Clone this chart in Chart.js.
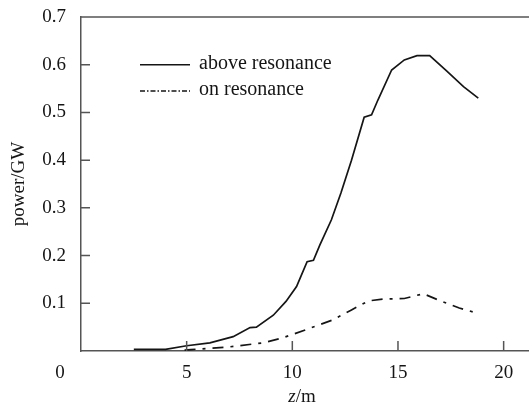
<!DOCTYPE html>
<html>
<head>
<meta charset="utf-8">
<script src="https://cdn.jsdelivr.net/npm/chart.js@4"></script>
<style>
  html, body { margin: 0; padding: 0; background: #fff; }
  #wrap { width: 529px; height: 407px; position: relative; }
</style>
</head>
<body>
<div id="wrap"><canvas id="powerChart"></canvas></div>
<script>
// values
const zAbove = [2.5, 4.0, 5.0, 6.1, 7.2, 8.0, 8.3, 9.1, 9.7, 10.2, 10.4, 10.7, 11.0, 11.3, 11.85, 12.3, 12.8, 13.4, 13.75, 14.05, 14.7, 15.3, 15.9, 16.5, 17.3, 18.1, 18.8];
const pAbove = [0.0035, 0.0035, 0.011, 0.017, 0.030, 0.049, 0.050, 0.075, 0.104, 0.135, 0.156, 0.187, 0.190, 0.222, 0.275, 0.331, 0.400, 0.490, 0.495, 0.526, 0.589, 0.610, 0.619, 0.619, 0.587, 0.554, 0.530];
const zOn = [4.9, 5.2, 6.9, 8.6, 9.5, 10.1, 11.1, 11.9, 12.8, 13.6, 14.3, 15.3, 16.2, 16.9, 17.9, 18.7];
const pOn = [0.002, 0.003, 0.008, 0.017, 0.027, 0.036, 0.052, 0.065, 0.086, 0.105, 0.109, 0.110, 0.120, 0.107, 0.090, 0.080];
const xTicks = [0, 5, 10, 15, 20];
const yTicks = [0.1, 0.2, 0.3, 0.4, 0.5, 0.6, 0.7];
const seriesNames = ['above resonance', 'on resonance'];

const ink = '#151515';
const axisColor = '#555';
const serif = '"Liberation Serif", "DejaVu Serif", serif';

const toPoints = (xs, ys) => xs.map((x, i) => ({ x: x, y: ys[i] }));

// inside tick marks, top frame line, origin label, legend and x title
const decorations = {
    id: 'decorations',
    afterDraw(chart) {
        const { ctx, chartArea, scales } = chart;
        const xs = scales.x, ys = scales.y;
        ctx.save();
        ctx.strokeStyle = axisColor;
        ctx.lineWidth = 1.5;
        ctx.beginPath();
        ctx.moveTo(chartArea.left, chartArea.top);
        ctx.lineTo(chartArea.right, chartArea.top);
        xTicks.filter(v => v > 0).forEach(v => {
            const px = xs.getPixelForValue(v);
            ctx.moveTo(px, chartArea.bottom);
            ctx.lineTo(px, chartArea.bottom - 10);
        });
        yTicks.filter(v => v < 0.7).forEach(v => {
            const py = ys.getPixelForValue(v);
            ctx.moveTo(chartArea.left, py);
            ctx.lineTo(chartArea.left + 9, py);
        });
        ctx.stroke();

        ctx.fillStyle = ink;
        ctx.font = '19px ' + serif;
        ctx.textAlign = 'center';
        ctx.textBaseline = 'middle';
        ctx.fillText('0', xs.getPixelForValue(0) - 21, chartArea.bottom + 22);

        // x title: italic z + /m
        const italic = 'italic 19px ' + serif;
        const upright = '19px ' + serif;
        ctx.font = italic;
        const wz = ctx.measureText('z').width;
        ctx.font = upright;
        const wm = ctx.measureText('/m').width;
        const cx = (chartArea.left + chartArea.right) / 2 - 3;
        const startX = cx - (wz + wm) / 2;
        ctx.textAlign = 'left';
        ctx.font = italic;
        ctx.fillText('z', startX, 397);
        ctx.font = upright;
        ctx.fillText('/m', startX + wz, 397);

        // legend
        const lx0 = 140, lx1 = 190, tx = 199;
        const ly = [ys.getPixelForValue(0.6), ys.getPixelForValue(0.545)];
        ctx.lineWidth = 1.5;
        ctx.strokeStyle = ink;
        ctx.beginPath();
        ctx.moveTo(lx0, ly[0]);
        ctx.lineTo(lx1, ly[0]);
        ctx.stroke();
        ctx.setLineDash([5, 2, 1.5, 2]);
        ctx.beginPath();
        ctx.moveTo(lx0, ly[1]);
        ctx.lineTo(lx1, ly[1]);
        ctx.stroke();
        ctx.setLineDash([]);
        ctx.font = '20px ' + serif;
        ctx.fillText(seriesNames[0], tx, ly[0] - 1);
        ctx.fillText(seriesNames[1], tx, ly[1] - 1);
        ctx.restore();
    }
};

new Chart(document.getElementById('powerChart'), {
    type: 'line',
    data: {
        datasets: [{
            label: seriesNames[0],
            data: toPoints(zAbove, pAbove),
            borderColor: ink,
            borderWidth: 1.7,
            pointRadius: 0,
            tension: 0
        }, {
            label: seriesNames[1],
            data: toPoints(zOn, pOn),
            borderColor: ink,
            borderWidth: 1.7,
            borderDash: [11, 7, 3, 7],
            pointRadius: 0,
            tension: 0
        }]
    },
    plugins: [decorations],
    options: {
        responsive: true,
        maintainAspectRatio: false,
        animation: false,
        layout: { padding: { top: 17, right: 0, left: 0, bottom: 0 } },
        plugins: { legend: { display: false }, tooltip: { enabled: false } },
        scales: {
            x: {
                type: 'linear',
                min: 0,
                max: 21.2,
                afterBuildTicks: s => { s.ticks = xTicks.map(v => ({ value: v })); },
                afterFit: s => { s.height = 56; s.paddingLeft = 0; s.paddingRight = 0; },
                ticks: {
                    color: ink,
                    font: { family: serif, size: 19 },
                    padding: 11,
                    maxRotation: 0,
                    callback: v => v === 0 ? '' : v
                },
                grid: { display: false, drawTicks: false },
                border: { display: true, color: axisColor, width: 1.5 }
            },
            y: {
                min: 0,
                max: 0.7,
                afterBuildTicks: s => { s.ticks = [0].concat(yTicks).map(v => ({ value: v })); },
                afterFit: s => { s.width = 81; s.paddingTop = 0; s.paddingBottom = 0; },
                ticks: {
                    color: ink,
                    font: { family: serif, size: 19 },
                    padding: 15,
                    callback: v => v === 0 ? '' : v.toFixed(1)
                },
                title: {
                    display: true,
                    text: 'power/GW',
                    color: ink,
                    font: { family: serif, size: 19 },
                    padding: { top: 8, bottom: 0 }
                },
                grid: { display: false, drawTicks: false },
                border: { display: true, color: axisColor, width: 1.5 }
            }
        }
    }
});
</script>
</body>
</html>
